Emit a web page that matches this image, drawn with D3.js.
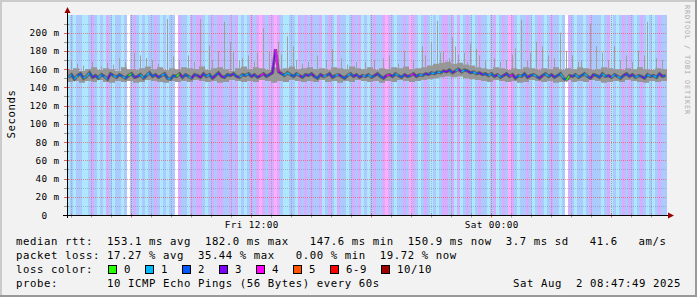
<!DOCTYPE html>
<html>
<head>
<meta charset="utf-8">
<script src="https://d3js.org/d3.v7.min.js"></script>
<style>
  body { margin: 0; background: #f2f2f2; }
  text { font-family: "DejaVu Sans Mono", monospace; white-space: pre; }
</style>
</head>
<body>
<div id="chart"></div>
<script>

// one sample every 9 minutes, 200 samples = 30 hours
var stepMin = 9;
var startTime = Date.UTC(2025, 7, 1, 2, 49);

// median rtt (ms) per sample
var median = [
  151,154,149,153,155,150,152,156,151,153,150,154,152,149,155,153,151,154,152,150,
  153,155,151,152,154,150,153,156,152,154,151,153,155,150,149,153,152,155,151,154,
  152,150,154,153,151,155,152,154,150,153,156,152,151,154,153,155,152,151,154,153,
  155,152,154,151,153,155,152,154,156,182,157,155,153,156,154,152,155,153,151,154,
  153,155,152,150,154,152,153,155,151,153,154,152,150,153,155,152,154,151,153,152,
  154,151,153,155,152,150,153,154,152,155,153,151,154,152,153,155,152,154,153,155,
  154,156,155,157,156,158,157,159,156,158,160,157,159,158,156,157,155,156,154,155,
  153,155,152,154,151,153,155,152,154,150,153,152,155,151,153,154,152,150,153,155,
  152,154,151,153,155,150,148,153,152,154,151,153,155,152,150,154,153,151,155,152,
  153,151,154,152,150,153,155,152,154,151,153,152,150,154,152,153,151,155,152,153
];

// lost pings (of 10) per sample
var loss = [
  1,2,1,2,2,1,1,2,3,2,1,
  2,1,3,2,1,2,2,1,2,0,
  2,3,2,1,2,1,2,2,3,2,1,2,1,2,2,
  0,3,2,2,1,3,2,3,3,2,1,2,3,2,3,
  3,2,2,3,2,3,1,2,1,2,3,2,3,4,3,
  2,3,3,4,3,2,1,1,2,2,1,3,2,3,2,
  3,2,2,3,1,2,3,2,1,3,2,2,1,2,3,
  2,3,1,2,1,2,3,2,2,3,4,3,2,1,2,
  2,3,2,4,3,2,1,2,3,2,1,2,1,2,3,
  3,2,3,1,3,1,2,3,2,1,2,3,2,2,1,
  2,3,1,2,3,2,4,3,2,1,2,2,3,2,1,
  2,3,2,1,2,3,2,2,1,2,0,3,2,1,2,
  2,1,2,3,2,2,2,1,2,3,1,2,1,2,3,
  2,3,2,1,2,3,2,1,2,1,2,3,2,2
];

// smoke band (ms), one value per 2 samples
var smokeLo = [
  146,147,145,147,146,148,146,145,147,146,147,145,146,148,147,146,145,147,146,147,
  146,148,147,146,147,145,146,148,147,146,147,146,148,147,145,147,146,148,147,146,
  147,146,148,146,147,145,147,146,148,147,146,147,145,147,146,148,147,146,147,148,
  149,150,151,152,151,152,150,149,148,147,146,148,147,146,147,145,146,148,147,146,
  147,145,146,148,146,147,146,148,147,145,146,147,146,148,147,146,145,147,146,147
];
var smokeHi = [
  159,161,158,160,162,159,161,160,158,162,160,159,161,163,160,162,159,161,160,162,
  161,160,163,159,161,162,160,158,161,163,160,162,161,159,162,160,161,163,160,161,
  162,160,161,159,162,161,160,163,161,160,162,159,161,160,162,161,163,160,161,162,
  164,166,167,168,166,167,165,164,162,161,160,162,161,159,161,160,162,161,159,161,
  160,162,159,161,160,162,161,159,160,162,161,160,159,161,160,162,160,159,161,160
];

// single slow pings: [sample, ms]
var spikes = [
  [1,170],[3,166],[5,164],[8,168],[11,163],[13,167],[15,165],[17,172],[19,168],
  [22,178],[24,175],[26,172],[28,170],[30,166],[33,215],[35,174],[37,170],[40,175],
  [42,168],[44,215],[47,186],[48,170],[50,180],[52,212],[54,190],[55,180],[57,170],
  [58,172],[60,175],[62,168],[63,178],[65,205],[67,180],[70,190],[71,176],[73,196],
  [75,185],[76,170],[78,166],[80,168],[83,175],[86,170],[88,182],[91,172],[93,165],
  [96,168],[99,168],[102,170],[105,172],[107,175],[110,166],[112,180],[115,170],
  [118,185],[119,175],[121,190],[123,213],[124,178],[125,180],[127,172],[128,195],
  [129,185],[130,176],[132,178],[133,168],[134,188],[136,182],[137,175],[139,170],
  [142,172],[144,168],[146,170],[148,176],[149,183],[151,214],[153,170],[154,178],
  [156,190],[158,185],[160,175],[162,172],[164,200],[166,180],[168,175],[170,168],
  [171,170],[174,210],[176,185],[178,178],[180,170],[182,185],[184,170],[186,175],
  [188,168],[190,180],[192,175],[193,212],[196,172],[198,170]
];

var yTicks = [0, 20, 40, 60, 80, 100, 120, 140, 160, 180, 200];
var yMinor = [10, 30, 50, 70, 90, 110, 130, 150, 170, 190, 210];
var lossColors = ["#26ff00", "#00b8ff", "#0059ff", "#7e00ff", "#ff00ff", "#ff5500", "#ff0000", "#a00000"];
var lossLabels = ["0", "1", "2", "3", "4", "5", "6-9", "10/10"];

var legendLines = [
  "median rtt:  153.1 ms avg  182.0 ms max   147.6 ms min  150.9 ms now  3.7 ms sd   41.6   am/s",
  "packet loss: 17.27 % avg  35.44 % max   0.00 % min  19.72 % now",
  "loss color:",
  "probe:       10 ICMP Echo Pings (56 Bytes) every 60s"
];
var stampText = "Sat Aug  2 08:47:49 2025";
var watermark = "RRDTOOL / TOBI OETIKER";

var W = 697, H = 297;
var pLeft = 67, pRight = 667, pTop = 15, pBottom = 215;

function t(i) { return new Date(startTime + i * stepMin * 60000); }
function tc(i) { return new Date(startTime + (i + 0.5) * stepMin * 60000); }
function lossClass(n) { return n >= 10 ? 7 : (n >= 6 ? 6 : n); }

var x = d3.scaleUtc()
    .domain([t(0), t(median.length)])
    .range([pLeft, pRight]);

var y = d3.scaleLinear()
    .domain([0, 219.4])
    .range([pBottom, pTop]);

var svg = d3.select("#chart")
    .append("svg")
    .attr("width", W)
    .attr("height", H);

// canvas + 3d frame
svg.append("rect").attr("width", W).attr("height", H).attr("fill", "#f2f2f2");
svg.append("path").attr("d", "M1,297V1H697").attr("fill", "none").attr("stroke", "#cbcbcb").attr("stroke-width", 2);
svg.append("path").attr("d", "M0,296H696V0").attr("fill", "none").attr("stroke", "#999").attr("stroke-width", 2);

svg.append("rect")
    .attr("x", pLeft).attr("y", pTop)
    .attr("width", pRight - pLeft).attr("height", pBottom - pTop)
    .attr("fill", "#fff");

// loss background stripes
svg.append("g")
    .selectAll("rect")
    .data(loss)
    .enter()
    .append("rect")
    .attr("x", function (d, i) { return x(t(i)); })
    .attr("width", function (d, i) { return x(t(i + 1)) - x(t(i)); })
    .attr("y", pTop)
    .attr("height", pBottom - pTop)
    .attr("fill", function (d) { return d === 0 ? "none" : lossColors[lossClass(d)]; })
    .attr("fill-opacity", 0.32)
    .attr("shape-rendering", "crispEdges");

// grid
var grid = svg.append("g").attr("stroke-dasharray", "1,1").attr("stroke-width", 1);
var hours = x.ticks(d3.utcHour.every(1));
var sixHours = x.ticks(d3.utcHour.every(6));
grid.selectAll(".vmin")
    .data(hours.filter(function (d) { return d.getUTCHours() % 6 !== 0; }))
    .enter().append("line")
    .attr("x1", function (d) { return Math.round(x(d)) + 0.5; })
    .attr("x2", function (d) { return Math.round(x(d)) + 0.5; })
    .attr("y1", pTop).attr("y2", pBottom)
    .attr("stroke", "rgba(120,120,120,0.4)");
grid.selectAll(".hmin")
    .data(yMinor)
    .enter().append("line")
    .attr("x1", pLeft).attr("x2", pRight)
    .attr("y1", function (d) { return Math.round(y(d)) + 0.5; })
    .attr("y2", function (d) { return Math.round(y(d)) + 0.5; })
    .attr("stroke", "rgba(120,120,120,0.4)");
grid.selectAll(".vmaj")
    .data(sixHours)
    .enter().append("line")
    .attr("x1", function (d) { return Math.round(x(d)) + 0.5; })
    .attr("x2", function (d) { return Math.round(x(d)) + 0.5; })
    .attr("y1", pTop).attr("y2", pBottom)
    .attr("stroke", "rgba(240,60,60,0.55)");
grid.selectAll(".hmaj")
    .data(yTicks.slice(1))
    .enter().append("line")
    .attr("x1", pLeft).attr("x2", pRight)
    .attr("y1", function (d) { return Math.round(y(d)) + 0.5; })
    .attr("y2", function (d) { return Math.round(y(d)) + 0.5; })
    .attr("stroke", "rgba(240,60,60,0.55)");

// smoke
svg.append("g")
    .selectAll("line")
    .data(spikes)
    .enter()
    .append("line")
    .attr("x1", function (d) { return Math.round(x(t(d[0]))) + 1.5; })
    .attr("x2", function (d) { return Math.round(x(t(d[0]))) + 1.5; })
    .attr("y1", function (d) { return y(smokeHi[Math.floor(d[0] / 2)]); })
    .attr("y2", function (d) { return y(d[1]); })
    .attr("stroke", "#a0a0a0")
    .attr("stroke-width", 1);

var smokeArea = d3.area()
    .curve(d3.curveStepAfter)
    .x(function (d, j) { return x(t(j * 2)); })
    .y0(function (d, j) { return y(smokeLo[Math.min(j, smokeLo.length - 1)]); })
    .y1(function (d, j) { return y(smokeHi[Math.min(j, smokeHi.length - 1)]); });
svg.append("path")
    .datum(smokeLo.concat([smokeLo[smokeLo.length - 1]]))
    .attr("d", smokeArea)
    .attr("fill", "#979797");

// median, dark core then loss coloured line
var medLine = d3.line()
    .x(function (d, i) { return x(tc(i)); })
    .y(function (d) { return y(d); });
svg.append("path")
    .datum(median)
    .attr("d", medLine)
    .attr("fill", "none")
    .attr("stroke", "#3a3a3a")
    .attr("stroke-width", 3.2)
    .attr("stroke-opacity", 0.6);

svg.append("g")
    .selectAll("path")
    .data(median.slice(0, median.length - 1))
    .enter()
    .append("path")
    .attr("d", function (d, i) {
      return "M" + x(tc(i)) + "," + y(d) + "L" + x(tc(i + 1)) + "," + y(median[i + 1]);
    })
    .attr("fill", "none")
    .attr("stroke", function (d, i) { return lossColors[lossClass(loss[i])]; })
    .attr("stroke-width", 1.3);

// axes
var ticks = svg.append("g");
ticks.selectAll(".xt")
    .data(hours)
    .enter().append("line")
    .attr("x1", function (d) { return Math.round(x(d)) + 0.5; })
    .attr("x2", function (d) { return Math.round(x(d)) + 0.5; })
    .attr("y1", pBottom - 2).attr("y2", pBottom + 2.5)
    .attr("stroke", function (d) { return d.getUTCHours() % 6 === 0 ? "#e06060" : "#999"; });
ticks.selectAll(".yt")
    .data(yTicks.slice(1).concat(yMinor))
    .enter().append("line")
    .attr("x1", pLeft - 3).attr("x2", pLeft + 2)
    .attr("y1", function (d) { return Math.round(y(d)) + 0.5; })
    .attr("y2", function (d) { return Math.round(y(d)) + 0.5; })
    .attr("stroke", function (d) { return d % 20 === 0 ? "#e06060" : "#999"; });

svg.append("line")
    .attr("x1", pLeft - 4).attr("x2", pRight + 3)
    .attr("y1", pBottom + 0.5).attr("y2", pBottom + 0.5)
    .attr("stroke", "#000");
svg.append("line")
    .attr("x1", pLeft + 0.5).attr("x2", pLeft + 0.5)
    .attr("y1", pBottom + 3).attr("y2", pTop - 3)
    .attr("stroke", "#000");
svg.append("path")
    .attr("d", "M" + (pLeft + 0.5) + ",7L" + (pLeft + 3.5) + ",13L" + (pLeft - 2.5) + ",13Z")
    .attr("fill", "#900");
svg.append("path")
    .attr("d", "M" + (pRight + 7) + "," + (pBottom + 0.5) + "L" + (pRight + 1) + "," + (pBottom - 2.5) + "L" + (pRight + 1) + "," + (pBottom + 3.5) + "Z")
    .attr("fill", "#900");

// y labels
svg.append("g")
    .selectAll("text")
    .data(yTicks)
    .enter().append("text")
    .attr("x", 29.5)
    .attr("y", function (d) { return y(d) + 3.5; })
    .attr("font-size", "9.33px")
    .attr("letter-spacing", "0.38px")
    .attr("fill", "#000")
    .text(function (d) { return (String(d)).padStart(3, " ") + (d === 0 ? "  " : " m"); });

// x labels
svg.append("g")
    .selectAll("text")
    .data(x.ticks(d3.utcHour.every(12)))
    .enter().append("text")
    .attr("x", function (d) { return x(d) + 1; })
    .attr("y", 228)
    .attr("text-anchor", "middle")
    .attr("font-size", "9.33px")
    .attr("letter-spacing", "0.38px")
    .text(d3.utcFormat("%a %H:%M"));

svg.append("text")
    .attr("transform", "translate(15,114) rotate(-90)")
    .attr("text-anchor", "middle")
    .attr("font-size", "10.67px")
    .attr("letter-spacing", "0.58px")
    .text("Seconds");

svg.append("text")
    .attr("transform", "translate(685,5) rotate(90)")
    .attr("font-size", "6.9px")
    .attr("letter-spacing", "0.85px")
    .attr("fill", "#aaa")
    .text(watermark);

// legend
var legend = svg.append("g")
    .attr("font-size", "10.67px")
    .attr("letter-spacing", "0.58px")
    .attr("fill", "#000");
var baselines = [245, 258.5, 272.5, 286.5];
legend.selectAll(".ln")
    .data(legendLines)
    .enter().append("text")
    .attr("x", 16)
    .attr("y", function (d, i) { return baselines[i]; })
    .text(function (d) { return d; });

var cursor = 108;
lossLabels.forEach(function (lab, i) {
  legend.append("rect")
      .attr("x", cursor + 0.5).attr("y", 265.5)
      .attr("width", 8).attr("height", 8)
      .attr("fill", lossColors[i])
      .attr("stroke", "#000");
  legend.append("text")
      .attr("x", cursor + 16)
      .attr("y", baselines[2])
      .text(lab);
  cursor += 16 + lab.length * 7 + 14;
});

legend.append("text")
    .attr("x", 681)
    .attr("y", baselines[3])
    .attr("text-anchor", "end")
    .text(stampText);

</script>
</body>
</html>
